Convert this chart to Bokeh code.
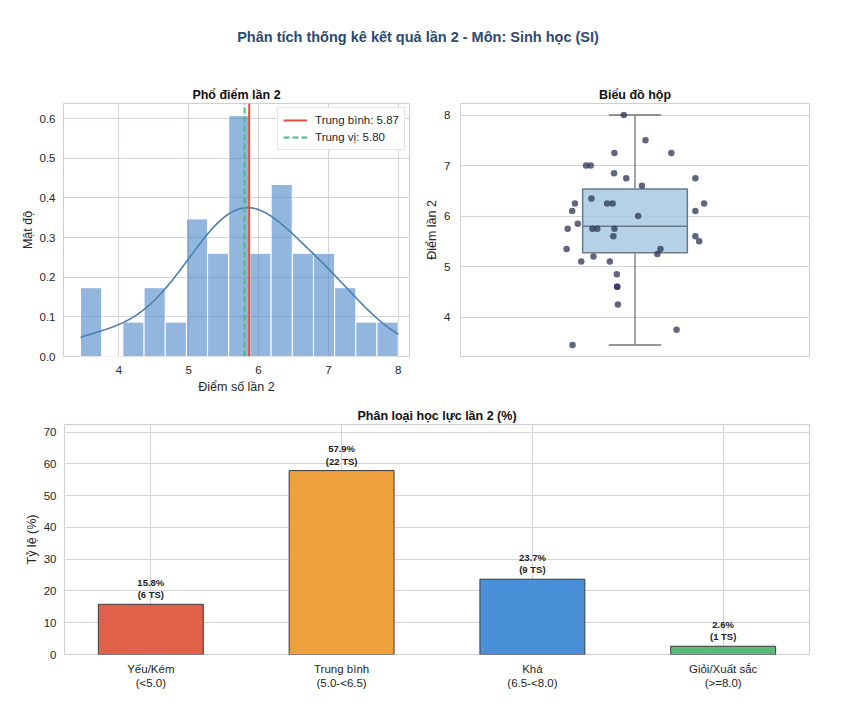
import numpy as np
from bokeh.plotting import figure
from bokeh.layouts import column, row
from bokeh.models import Legend, LegendItem, FixedTicker, PrintfTickFormatter, Range1d, ColumnDataSource
from bokeh.embed import file_html
from bokeh.resources import INLINE
from bokeh.core.properties import value

# ---------------- data ----------------
scores = [8.0, 7.5, 7.25, 7.25, 7.0, 7.0, 6.85, 6.75, 6.75, 6.6, 6.35,
          6.25, 6.25, 6.25, 6.25, 6.1, 6.1, 6.0, 5.85, 5.75, 5.75, 5.75, 5.75,
          5.6, 5.6, 5.5, 5.35, 5.35, 5.25, 5.2, 5.1, 5.1, 4.85, 4.6, 4.6,
          4.25, 3.75, 3.45]
jitter = [-0.032, 0.030, -0.059, 0.104, -0.140, -0.127, -0.060, -0.025, 0.173,
          0.020, -0.125, -0.172, -0.080, -0.064, 0.198, -0.180, 0.173, 0.009,
          -0.164, -0.193, -0.122, -0.108, -0.059, -0.062, 0.173, 0.184, -0.196,
          0.073, 0.064, -0.119, -0.154, -0.072, -0.052, -0.051, -0.051, -0.049,
          0.119, -0.179]

hist_xticks = [4, 5, 6, 7, 8]
hist_yticks = [0.0, 0.1, 0.2, 0.3, 0.4, 0.5, 0.6]
box_yticks = [4, 5, 6, 7, 8]

cat_labels = ["Yếu/Kém\n(<5.0)", "Trung bình\n(5.0-<6.5)", "Khá\n(6.5-<8.0)", "Giỏi/Xuất sắc\n(>=8.0)"]
cat_pct = [15.8, 57.9, 23.7, 2.6]
cat_counts = [6, 22, 9, 1]
cat_colors = ["#e0614a", "#eea03c", "#4a90d9", "#5cb87a"]
bar_yticks = [0, 10, 20, 30, 40, 50, 60, 70]

FONT = "Liberation Sans"
TXT = "#262626"
GRID = "#d4d2db"
OUT = "#cfcdd6"

def style(p):
    p.outline_line_color = OUT
    p.outline_line_width = 1
    p.background_fill_color = "white"
    p.border_fill_color = "white"
    for ax in p.axis:
        ax.axis_line_color = None
        ax.major_tick_line_color = None
        ax.minor_tick_line_color = None
        ax.major_tick_out = 0
        ax.major_tick_in = 0
        ax.major_label_text_font = FONT
        ax.major_label_text_font_size = "11.5px"
        ax.major_label_text_color = TXT
        ax.axis_label_text_font = FONT
        ax.axis_label_text_font_size = "12.5px"
        ax.axis_label_text_font_style = "normal"
        ax.axis_label_text_color = TXT
        ax.major_label_standoff = 8
        ax.axis_label_standoff = 2
    for g in p.grid:
        g.grid_line_color = GRID
        g.grid_line_width = 1
    p.title.text_font = FONT
    p.title.text_font_size = "12.5px"
    p.title.text_font_style = "bold"
    p.title.text_color = "#111111"
    p.title.align = "center"
    p.title.standoff = 4

# ---------------- main title ----------------
pt = figure(width=838, height=72, x_range=Range1d(0, 1), y_range=Range1d(0, 1),
            toolbar_location=None, output_backend="svg", min_border=0)
pt.axis.visible = False
pt.grid.visible = False
pt.outline_line_color = None
pt.text(x=[0.4745], y=[0.5], text=["Phân tích thống kê kết quả lần 2 - Môn: Sinh học (SI)"],
        text_font=value(FONT), text_font_size="14.5px", text_font_style="bold",
        text_color="#2c4a72", text_align="center", text_baseline="middle")

# ---------------- histogram ----------------
arr = np.array(scores)
dens, edges = np.histogram(arr, bins=15, density=True)
mean_v = arr.mean()
med_v = np.median(arr)
h_ytop = 0.638

p1 = figure(width=420, height=328, title="Phổ điểm lần 2",
            x_range=Range1d(3.206, 8.162), y_range=Range1d(0, h_ytop),
            toolbar_location=None, output_backend="svg",
            min_border_left=63, min_border_right=11, min_border_top=31, min_border_bottom=44)
p1.quad(left=edges[:-1], right=edges[1:], bottom=0, top=dens,
        fill_color="#4a86c8", fill_alpha=0.6, line_color="white", line_width=1)
# KDE (scott bandwidth)
bw = arr.std(ddof=1) * len(arr) ** (-1 / 5)
xs = np.linspace(arr.min(), arr.max(), 300)
kde = np.exp(-0.5 * ((xs[:, None] - arr[None, :]) / bw) ** 2).sum(axis=1) / (len(arr) * bw * np.sqrt(2 * np.pi))
p1.line(xs, kde, line_color="#4a7fb0", line_width=1.6)
r_med = p1.line(x=[med_v, med_v], y=[0, h_ytop], line_color="#3fbf85", line_width=2, line_dash="6 3")
r_mean = p1.line(x=[mean_v, mean_v], y=[0, h_ytop], line_color="#e74c3c", line_width=2)
p1.xaxis.axis_label = "Điểm số lần 2"
p1.yaxis.axis_label = "Mật độ"
p1.xaxis.ticker = FixedTicker(ticks=hist_xticks)
p1.yaxis.ticker = FixedTicker(ticks=hist_yticks)
p1.yaxis.formatter = PrintfTickFormatter(format="%.1f")
style(p1)
p1.xaxis.major_label_standoff = 9
p1.xaxis.axis_label_standoff = 3
leg = Legend(items=[LegendItem(label=f"Trung bình: {mean_v:.2f}", renderers=[r_mean]),
                    LegendItem(label=f"Trung vị: {med_v:.2f}", renderers=[r_med])],
             location="top_right")
leg.label_text_font = FONT
leg.label_text_font_size = "11.5px"
leg.label_text_color = TXT
leg.glyph_width = 24
leg.glyph_height = 14
leg.label_standoff = 8
leg.spacing = 3
leg.padding = 5
leg.margin = 4
leg.border_line_color = "#cccccc"
leg.background_fill_alpha = 0.9
p1.add_layout(leg)

# ---------------- box plot ----------------
q1, q2, q3 = np.percentile(arr, [25, 50, 75])
iqr = q3 - q1
lo = arr[arr >= q1 - 1.5 * iqr].min()
hi = arr[arr <= q3 + 1.5 * iqr].max()
p2 = figure(width=418, height=328, title="Biểu đồ hộp",
            x_range=Range1d(-0.5, 0.5), y_range=Range1d(3.2225, 8.2275),
            toolbar_location=None, output_backend="svg",
            min_border_left=40, min_border_right=29, min_border_top=31, min_border_bottom=44)
p2.segment(x0=[0, 0], y0=[lo, q3], x1=[0, 0], y1=[q1, hi], line_color="#707478", line_width=1.3)
p2.segment(x0=[-0.075, -0.075], y0=[lo, hi], x1=[0.075, 0.075], y1=[lo, hi], line_color="#707478", line_width=1.3)
p2.quad(left=[-0.15], right=[0.15], bottom=[q1], top=[q3], fill_color="#a3c6e2",
        fill_alpha=0.8, line_color="#6c7a86", line_width=1.5)
p2.segment(x0=[-0.15], y0=[q2], x1=[0.15], y1=[q2], line_color="#6c7a86", line_width=1.5)
p2.scatter(x=jitter, y=scores, size=6.5, fill_color="#2c3356", fill_alpha=0.75, line_color=None)
p2.yaxis.axis_label = "Điểm lần 2"
p2.yaxis.ticker = FixedTicker(ticks=box_yticks)
p2.xaxis.visible = False
p2.xgrid.visible = False
style(p2)
p2.yaxis.major_label_standoff = 10

# ---------------- categories bar chart ----------------
idx = list(range(len(cat_labels)))
labels = [f"{p:.1f}%\n({c} TS)" for p, c in zip(cat_pct, cat_counts)]
src = ColumnDataSource(dict(x=idx, top=cat_pct, color=cat_colors, lab=labels))
p3 = figure(width=838, height=316, title="Phân loại học lực lần 2 (%)",
            x_range=Range1d(-0.4525, 3.4525), y_range=Range1d(0, 72.4),
            toolbar_location=None, output_backend="svg",
            min_border_left=64, min_border_right=29, min_border_top=24, min_border_bottom=62)
p3.vbar(x="x", top="top", width=0.55, fill_color="color", line_color="#3a3a3a", line_width=1, source=src)
p3.text(x="x", y="top", text="lab", source=src, text_font=value(FONT), text_font_size="9.5px",
        text_font_style="bold", text_color="#222222", text_align="center", text_baseline="bottom",
        y_offset=-4, text_line_height=1.15)
p3.xaxis.ticker = FixedTicker(ticks=idx)
p3.xaxis.major_label_overrides = {i: l for i, l in zip(idx, cat_labels)}
p3.yaxis.ticker = FixedTicker(ticks=bar_yticks)
p3.yaxis.axis_label = "Tỷ lệ (%)"
style(p3)
p3.xaxis.major_label_text_font_size = "11.5px"

layout = column(pt, row(p1, p2), p3)
open("out.html", "w").write(file_html(layout, INLINE))
